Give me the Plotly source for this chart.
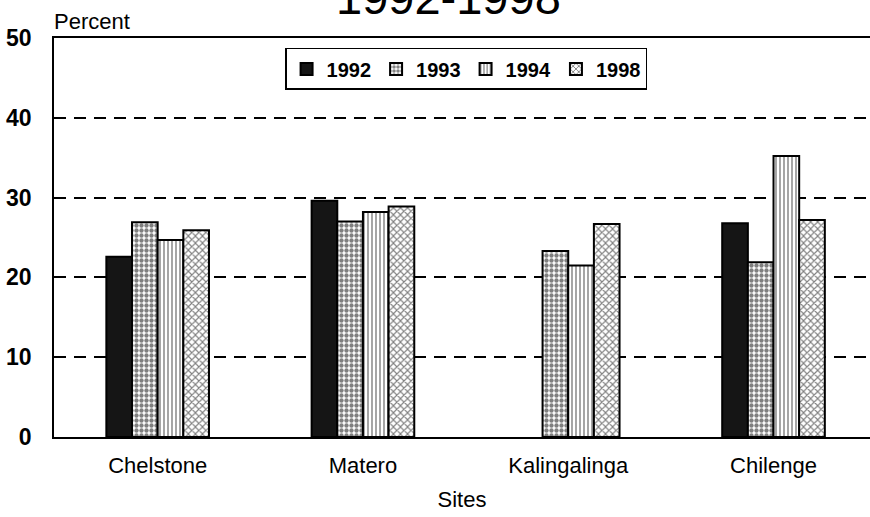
import plotly.graph_objects as go

# Sites and yearly percentages
sites = ["Chelstone", "Matero", "Kalingalinga", "Chilenge"]
years = ["1992", "1993", "1994", "1998"]
pct_1992 = [22.6, 29.6, None, 26.8]
pct_1993 = [26.9, 27.0, 23.3, 21.9]
pct_1994 = [24.7, 28.2, 21.5, 35.2]
pct_1998 = [25.9, 28.9, 26.7, 27.2]
y_ticks = [0, 10, 20, 30, 40, 50]

series = [pct_1992, pct_1993, pct_1994, pct_1998]
fills = [
    dict(color="#151515", pattern=dict(shape="")),
    dict(color="white", pattern=dict(shape=".", fgcolor="black", bgcolor="white", size=5, solidity=0.6)),
    dict(color="white", pattern=dict(shape="|", fgcolor="black", bgcolor="white", size=4, solidity=0.35)),
    dict(color="white", pattern=dict(shape="x", fgcolor="black", bgcolor="white", size=5, solidity=0.4)),
]

FONT = "Liberation Sans, Arial, sans-serif"

fig = go.Figure()
for name, vals, fill in zip(years, series, fills):
    fig.add_trace(go.Bar(
        x=sites, y=vals, name=name,
        marker=dict(color=fill["color"], pattern=fill["pattern"],
                    line=dict(color="black", width=2)),
    ))

fig.update_layout(
    width=870, height=517,
    margin=dict(l=54, r=0, t=38, b=80),
    paper_bgcolor="white", plot_bgcolor="white",
    barmode="group", bargap=0.5, bargroupgap=0,
    showlegend=True,
    legend=dict(
        orientation="h", x=0.505, y=0.975, xanchor="center", yanchor="top",
        bordercolor="black", borderwidth=1.5, bgcolor="white",
        font=dict(family=FONT, size=20, color="black", weight="bold"),
        itemsizing="constant",
    ),
    font=dict(family=FONT, color="black"),
)

fig.update_xaxes(
    range=[-0.505, 3.47],
    showline=True, linecolor="black", linewidth=1.5, mirror=True,
    showgrid=False, ticks="",
    tickfont=dict(family=FONT, size=22, color="black"),
    ticklabelstandoff=8,
    title=dict(text="Sites", font=dict(family=FONT, size=22, color="black"), standoff=14),
)
fig.update_yaxes(
    range=[0, 50], tickvals=y_ticks,
    showline=True, linecolor="black", linewidth=1.5, mirror=False,
    showgrid=True, gridcolor="black", gridwidth=1.5, griddash="12px,8px",
    zeroline=False, ticks="",
    tickfont=dict(family=FONT, size=23, color="black", weight="bold"),
    ticklabelstandoff=16,
)

# Chart heading and y-axis caption
fig.add_annotation(
    text="1992-1998", xref="paper", yref="paper", x=0.483, y=1.03,
    xanchor="center", yanchor="bottom", showarrow=False,
    font=dict(family=FONT, size=47, color="black"),
)
fig.add_annotation(
    text="Percent", xref="paper", yref="paper", x=-0.003, y=1.005,
    xanchor="left", yanchor="bottom", showarrow=False,
    font=dict(family=FONT, size=22, color="black"),
)

fig.write_html("out.html")
